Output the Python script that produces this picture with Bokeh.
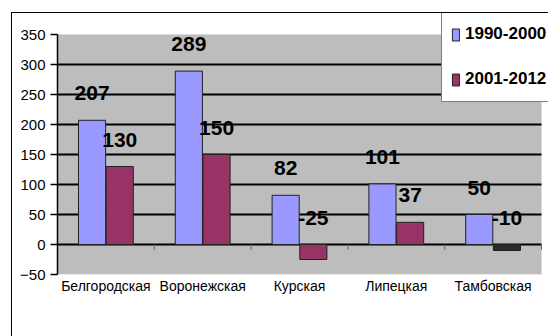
from bokeh.plotting import figure
from bokeh.models import (ColumnDataSource, Range1d, FixedTicker, Legend, LegendItem,
                          BoxAnnotation, InlineStyleSheet)
from bokeh.transform import dodge
from bokeh.core.properties import value
from bokeh.embed import file_html
from bokeh.resources import INLINE

regions = ["Белгородская", "Воронежская", "Курская", "Липецкая", "Тамбовская"]
s1990 = [207, 289, 82, 101, 50]
s2001 = [130, 150, -25, 37, -10]
series_names = ["1990-2000", "2001-2012"]
y_ticks = [-50, 0, 50, 100, 150, 200, 250, 300, 350]
grid_values = [0, 50, 100, 150, 200, 250, 300]

FONT = "Liberation Sans, Arial, sans-serif"
BLUE = "#9999ff"
MAROON = "#993366"

pos = [i + 0.5 for i in range(len(regions))]
n = len(regions)

src = ColumnDataSource(dict(
    x=pos,
    a=s1990,
    b=s2001,
    a_top=[max(v, 0) for v in s1990],
    b_top=[max(v, 0) for v in s2001],
    a_lab=[str(v) for v in s1990],
    b_lab=[str(v) for v in s2001],
    b_col=[MAROON if v != -10 else "#2b2b2b" for v in s2001],
))

# plot area: 350 at y=34px, -50 at y=274px (0.6 px / unit); frame top at 12px
y_top = 350 + 22 / 0.6
x_end = n + 7 / 96.8

p = figure(width=548, height=336, x_range=Range1d(0, x_end), y_range=Range1d(-50, y_top),
           output_backend="svg", toolbar_location=None,
           min_border_left=57, min_border_right=0, min_border_top=12, min_border_bottom=62)
p.background_fill_color = "white"
p.border_fill_color = "white"
p.outline_line_color = None
p.stylesheets = [InlineStyleSheet(css="""
:host { position: relative; }
:host::after { content: ''; position: absolute; left: 11px; top: 12px; width: 600px; height: 400px;
  border-left: 1.5px solid black; border-top: 1.5px solid black; pointer-events: none; }
""")]

# gray plot area
p.add_layout(BoxAnnotation(left=0, right=n, bottom=-50, top=350, fill_color="#bdbdbd",
                           fill_alpha=1, line_color="#d0d0d0", line_width=1, level="underlay"))

# grid lines and zero line
gsrc = ColumnDataSource(dict(y=grid_values, x0=[0] * len(grid_values), x1=[n] * len(grid_values)))
p.segment(x0="x0", x1="x1", y0="y", y1="y", source=gsrc, line_color="black", line_width=2)

# small category tick marks under the zero line
tsrc = ColumnDataSource(dict(x=[1, 2, 3, 4, 5], y0=[0] * 5, y1=[-9] * 5))
p.segment(x0="x", x1="x", y0="y0", y1="y1", source=tsrc, line_color="#666666", line_width=1)

ra = p.vbar(x=dodge("x", -0.143), top="a", bottom=0, width=0.28,
            source=src, fill_color=BLUE, line_color="#222222", line_width=1)
rb = p.vbar(x=dodge("x", 0.143), top="b", bottom=0, width=0.28,
            source=src, fill_color="b_col", line_color="#222222", line_width=1)

p.xgrid.visible = False
p.ygrid.visible = False

# y axis
p.yaxis.ticker = FixedTicker(ticks=y_ticks)
p.yaxis.bounds = (-50, 350)
p.yaxis.major_label_text_font = FONT
p.yaxis.major_label_text_font_size = "15px"
p.yaxis.major_label_text_color = "black"
p.yaxis.axis_line_color = "black"
p.yaxis.axis_line_width = 1.5
p.yaxis.major_tick_line_color = "black"
p.yaxis.major_tick_line_width = 1.5
p.yaxis.major_tick_out = 7
p.yaxis.major_tick_in = 0
p.yaxis.minor_tick_line_color = None
p.yaxis.major_label_standoff = 5

# x axis
p.xaxis.ticker = FixedTicker(ticks=pos)
p.xaxis.major_label_overrides = {x: r for x, r in zip(pos, regions)}
p.xaxis.axis_line_color = None
p.xaxis.major_tick_line_color = None
p.xaxis.major_tick_out = 0
p.xaxis.major_tick_in = 0
p.xaxis.minor_tick_line_color = None
p.xaxis.minor_tick_out = 0
p.xaxis.major_label_text_font = FONT
p.xaxis.major_label_text_font_size = "14px"
p.xaxis.major_label_text_color = "black"
p.xaxis.major_label_standoff = 3

# data labels
lab_kw = dict(text_font=value(FONT), text_font_size="21px", text_font_style="bold",
              text_align="center", text_baseline="middle", text_color="black", source=src)
p.text(x=dodge("x", -0.143), y="a_top", text="a_lab", y_offset=-27, **lab_kw)
p.text(x=dodge("x", 0.143), y="b_top", text="b_lab", y_offset=-27, **lab_kw)

legend = Legend(items=[LegendItem(label=series_names[0], renderers=[ra]),
                       LegendItem(label=series_names[1], renderers=[rb])],
                location=(384, 172), orientation="vertical")
legend.label_text_font = FONT
legend.label_text_font_size = "17px"
legend.label_text_font_style = "bold"
legend.label_text_color = "black"
legend.label_height = 26
legend.label_standoff = 5
legend.glyph_width = 9
legend.glyph_height = 15
legend.spacing = 19
legend.padding = 9
legend.margin = 0
legend.border_line_color = "black"
legend.border_line_width = 1.5
legend.background_fill_color = "white"
legend.background_fill_alpha = 1
p.add_layout(legend, "center")

open("out.html", "w").write(file_html(p, INLINE))
